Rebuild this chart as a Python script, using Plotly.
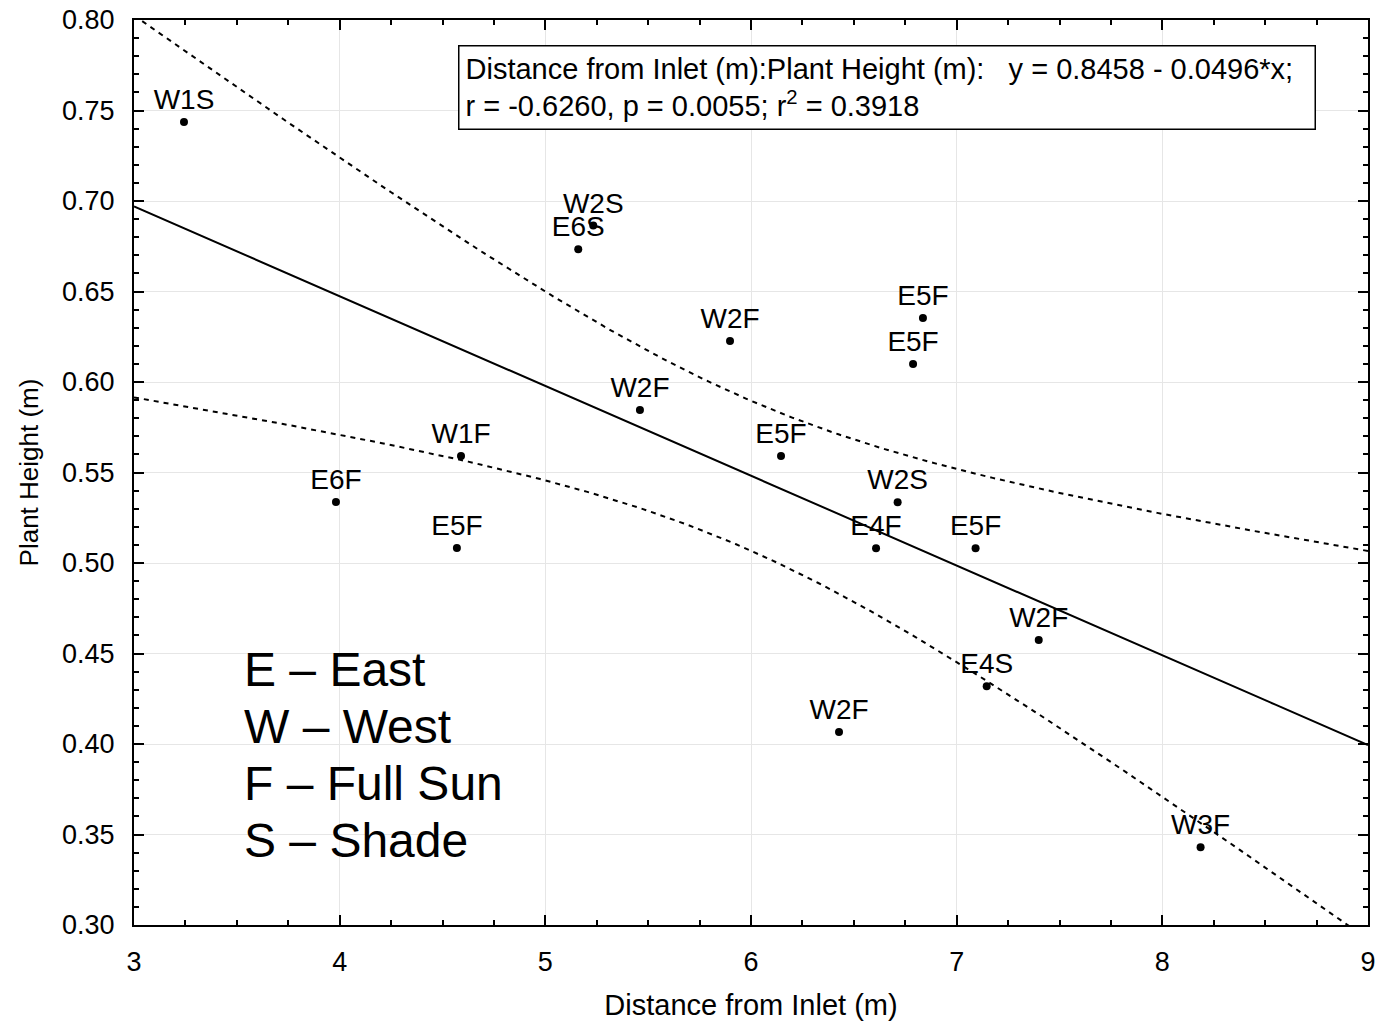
import numpy as np
import plotly.graph_objects as go

# Plant height vs distance from inlet, one labelled point per sample
labels = ["W1S", "W2S", "E6S", "W2F", "E5F", "E5F", "W2F", "W1F", "E5F",
          "E6F", "W2S", "E4F", "E5F", "E5F", "W2F", "E4S", "W2F", "W3F"]
distance = [3.243, 5.233, 5.160, 5.898, 6.836, 6.788, 5.460, 4.590, 6.146,
            3.982, 6.713, 6.608, 7.092, 4.570, 7.399, 7.146, 6.428, 8.186]
height = [0.7436, 0.6864, 0.6733, 0.6227, 0.6354, 0.6099, 0.5845, 0.5591, 0.5591,
          0.5337, 0.5335, 0.5081, 0.5081, 0.5083, 0.4575, 0.4319, 0.4066, 0.3429]

# Fitted line y = a + b*x and its statistics
intercept = 0.8458
slope = -0.0496
r_value = -0.6260
p_value = 0.0055
r_squared = 0.3918
t_crit = 2.1199  # two-sided 95%, df = 16

key_lines = ["E \u2013 East", "W \u2013 West", "F \u2013 Full Sun", "S \u2013 Shade"]

FONT = "Liberation Sans, Arial, sans-serif"

x = np.array(distance)
y = np.array(height)
n = len(x)
xg = np.linspace(3, 9, 241)
fit = intercept + slope * xg
resid = y - (intercept + slope * x)
s = np.sqrt(np.sum(resid ** 2) / (n - 2))
sxx = np.sum((x - x.mean()) ** 2)
half = t_crit * s * np.sqrt(1.0 / n + (xg - x.mean()) ** 2 / sxx)

band_line = dict(color="black", width=2, dash="5px,5px")
fig = go.Figure()
fig.add_trace(go.Scatter(x=xg, y=fit + half, mode="lines", line=band_line,
                         hoverinfo="skip", showlegend=False))
fig.add_trace(go.Scatter(x=xg, y=fit - half, mode="lines", line=band_line,
                         hoverinfo="skip", showlegend=False))
fig.add_trace(go.Scatter(x=xg, y=fit, mode="lines",
                         line=dict(color="black", width=2),
                         hoverinfo="skip", showlegend=False))
fig.add_trace(go.Scatter(x=distance, y=height, mode="markers+text", text=labels,
                         textposition="top center",
                         textfont=dict(family=FONT, size=28, color="black"),
                         marker=dict(color="black", size=8),
                         showlegend=False))

# Plot area in pixels
L, R, T, B = 134, 1368, 20, 925
PW, PH = R - L, B - T

stats = (f"Distance from Inlet (m):Plant Height (m):   y = {intercept:.4f} - {abs(slope):.4f}*x;<br>"
         f"r = {r_value:.4f}, p = {p_value:.4f}; r<sup>2</sup> = {r_squared:.4f}")
fig.add_annotation(xref="paper", yref="paper", x=(458 - L) / PW, y=1 - (45 - T) / PH,
                   xanchor="left", yanchor="top", text=stats, showarrow=False, align="left",
                   font=dict(family=FONT, size=29, color="black"),
                   bordercolor="black", borderwidth=1.5, borderpad=6, bgcolor="white",
                   width=843)

for i, line in enumerate(key_lines):
    fig.add_annotation(xref="paper", yref="paper", x=(242 - L) / PW,
                       y=1 - (669 + 57 * i - T) / PH,
                       xanchor="left", yanchor="middle", text=line, showarrow=False,
                       font=dict(family=FONT, size=48, color="black"))

axis_common = dict(showline=True, linecolor="black", linewidth=2, mirror="ticks",
                   ticks="inside", ticklen=10, tickwidth=1.5, tickcolor="black",
                   showgrid=True, gridcolor="#e6e6e6", gridwidth=1, zeroline=False,
                   automargin=False, ticklabelstandoff=12,
                   tickfont=dict(family=FONT, size=27, color="black"))

fig.update_xaxes(range=[3, 9], dtick=1, tick0=3,
                 minor=dict(dtick=0.25, ticks="inside", ticklen=5, tickcolor="black", showgrid=False),
                 title=dict(text="Distance from Inlet (m)", font=dict(family=FONT, size=29, color="black"),
                            standoff=18),
                 **axis_common)
fig.update_yaxes(range=[0.30, 0.80], dtick=0.05, tick0=0.30, tickformat=".2f",
                 minor=dict(dtick=0.01, ticks="inside", ticklen=5, tickcolor="black", showgrid=False),
                 title=dict(text="Plant Height (m)", font=dict(family=FONT, size=26, color="black"),
                            standoff=16),
                 **axis_common)

fig.update_layout(width=1380, height=1023, plot_bgcolor="white", paper_bgcolor="white",
                  margin=dict(l=L, r=1380 - R, t=T, b=1023 - B), font=dict(family=FONT))

fig.write_html("out.html")
